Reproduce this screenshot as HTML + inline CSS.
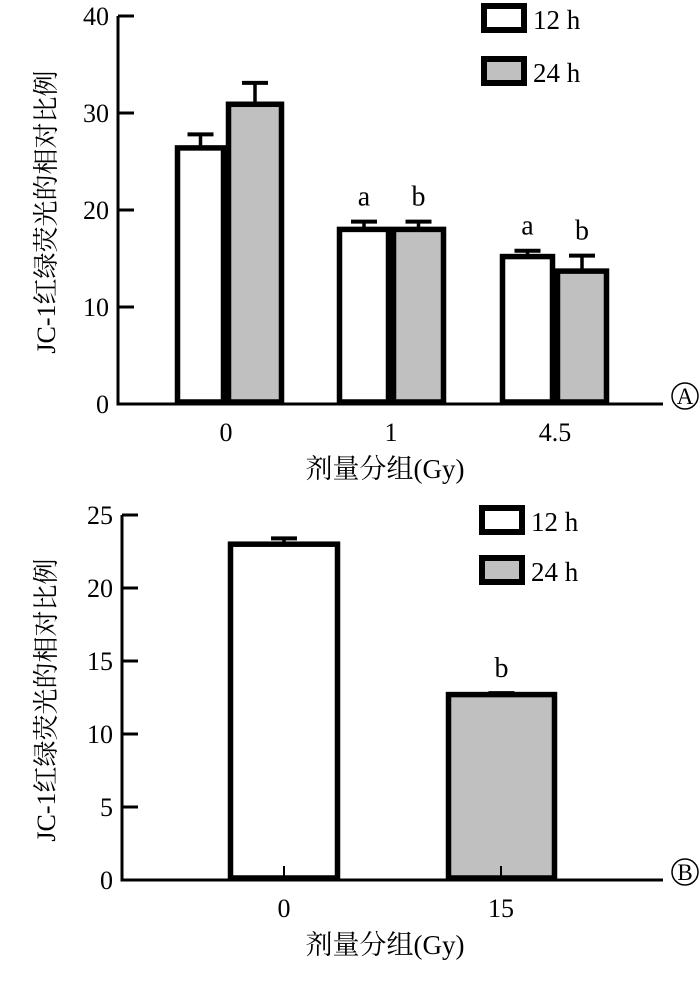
<!DOCTYPE html>
<html><head><meta charset="utf-8"><style>
html,body{margin:0;padding:0;background:#fff;}
svg{display:block;font-family:"Liberation Serif","Noto Serif CJK SC",serif;}
</style></head><body>
<svg id="c" width="700" height="984" viewBox="0 0 700 984" xmlns="http://www.w3.org/2000/svg"></svg>
<script>
// Panel A data
const catsA = ["0", "1", "4.5"];
const valsA12 = [26.4, 18.0, 15.2];
const errA12 = [1.4, 0.8, 0.6];
const valsA24 = [30.9, 18.0, 13.7];
const errA24 = [2.2, 0.8, 1.6];
const marksA12 = ["", "a", "a"];
const marksA24 = ["", "b", "b"];
const ticksA = [0, 10, 20, 30, 40];
// Panel B data
const catsB = ["0", "15"];
const valsB = [23.0, 12.7];
const errB = [0.4, 0.1];
const seriesB = ["12h", "24h"];
const marksB = ["", "b"];
const ticksB = [0, 5, 10, 15, 20, 25];

const NS = "http://www.w3.org/2000/svg";
const svg = document.getElementById("c");
function el(tag, attrs, parent, text) {
  const e = document.createElementNS(NS, tag);
  for (const k in attrs) e.setAttribute(k, attrs[k]);
  if (text !== undefined) e.textContent = text;
  (parent || svg).appendChild(e);
  return e;
}
const FILL = {"12h": "#ffffff", "24h": "#c0c0c0"};

function panel(cfg) {
  const g = el("g", {});
  
  
  const y = v => cfg.y0 - (v - cfg.min) / (cfg.max - cfg.min) * (cfg.y0 - cfg.yTop);
  const ax = el("line", {x1: cfg.ax, y1: cfg.yTop, x2: cfg.ax, y2: cfg.y0 + 1.5, stroke: "#000", "stroke-width": 3}, g);
  
  
  const xa = el("line", {x1: cfg.ax - 1.5, y1: cfg.y0, x2: 663, y2: cfg.y0, stroke: "#000", "stroke-width": 3}, g);
  
  
  cfg.ticks.forEach(t => {
    const ty = y(t);
    const tl = el("line", {x1: cfg.ax, y1: ty, x2: cfg.ax + 16, y2: ty, stroke: "#000", "stroke-width": 3}, g);
    
    
    const tx = el("text", {x: cfg.ax - 9, y: ty + 9, "text-anchor": "end", "font-size": 26}, g, String(t));
    
    
  });
  cfg.bars.forEach(b => {
    const top = y(b.v);
    const eb = el("line", {x1: (b.x0 + b.x1) / 2, y1: top, x2: (b.x0 + b.x1) / 2, y2: y(b.v + b.e), stroke: "#000", "stroke-width": 3.5}, g);
    
    
    const cap = el("line", {x1: (b.x0 + b.x1) / 2 - 13, y1: y(b.v + b.e), x2: (b.x0 + b.x1) / 2 + 13, y2: y(b.v + b.e), stroke: "#000", "stroke-width": 4}, g);
    
    
    const r = el("rect", {x: b.x0 + 2.5, y: top, width: b.x1 - b.x0 - 5, height: cfg.y0 - top - 2, fill: FILL[b.s], stroke: "#000", "stroke-width": 5.5}, g);
    
    
    if (b.m) {
      const mt = el("text", {x: (b.x0 + b.x1) / 2, y: y(b.v + b.e) - 16, "text-anchor": "middle", "font-size": 28}, g, b.m);
      
      
    }
  });
  cfg.cats.forEach((c, i) => {
    const cx = cfg.cx[i];
    if (cfg.catTick) {
      const ct = el("line", {x1: cx, y1: cfg.y0, x2: cx, y2: cfg.y0 - 14, stroke: "#000", "stroke-width": 2}, g);
      
      
    }
    const t = el("text", {x: cx, y: cfg.y0 + 37, "text-anchor": "middle", "font-size": 26}, g, c);
    
    
  });
  const xt = el("text", {x: 385, y: cfg.y0 + 74, "text-anchor": "middle", "font-size": 27}, g, "剂量分组(Gy)");
  
  
  const yt = el("text", {x: 0, y: 0, "text-anchor": "middle", "font-size": 26, transform: "translate(55," + cfg.titleY + ") rotate(-90)"}, g, "JC-1红绿荧光的相对比例");
  
  
  const pc = el("circle", {cx: 685, cy: cfg.y0 - 8, r: 13, fill: "none", stroke: "#000", "stroke-width": 1.5}, g);
  
  
  const pl = el("text", {x: 685, y: cfg.y0, "text-anchor": "middle", "font-size": 23}, g, cfg.letter);
  
  
  [["12 h", "12h", cfg.legY[0]], ["24 h", "24h", cfg.legY[1]]].forEach(L => {
    const lr = el("rect", {x: cfg.legX + 3, y: L[2] + 3, width: 40, height: 24, fill: FILL[L[1]], stroke: "#000", "stroke-width": 6}, g);
    
    
    const lt = el("text", {x: cfg.legX + 52, y: L[2] + 26, "font-size": 27}, g, L[0]);
    
    
  });
}

const barsA = [];
const xA = [[175, 226, 284], [337, 391, 446], [500, 555, 609]];
catsA.forEach((c, i) => {
  barsA.push({cat: c, s: "12h", v: valsA12[i], e: errA12[i], x0: xA[i][0], x1: xA[i][1], m: marksA12[i]});
  barsA.push({cat: c, s: "24h", v: valsA24[i], e: errA24[i], x0: xA[i][1], x1: xA[i][2], m: marksA24[i]});
});
panel({name: "panel-a", ax: 118, y0: 404, yTop: 16, min: 0, max: 40, ticks: ticksA, bars: barsA,
  cats: catsA, cx: [226, 391, 555], catTick: false, titleY: 212, letter: "A", legX: 481, legY: [3, 56]});

const xB = [[228, 340], [446, 557]];
const barsB = catsB.map((c, i) => ({cat: c, s: seriesB[i], v: valsB[i], e: errB[i], x0: xB[i][0], x1: xB[i][1], m: marksB[i]}));
panel({name: "panel-b", ax: 122, y0: 880, yTop: 515, min: 0, max: 25, ticks: ticksB, bars: barsB,
  cats: catsB, cx: [284, 501], catTick: true, titleY: 700, letter: "B", legX: 479, legY: [505, 555]});
</script>
</body></html>
